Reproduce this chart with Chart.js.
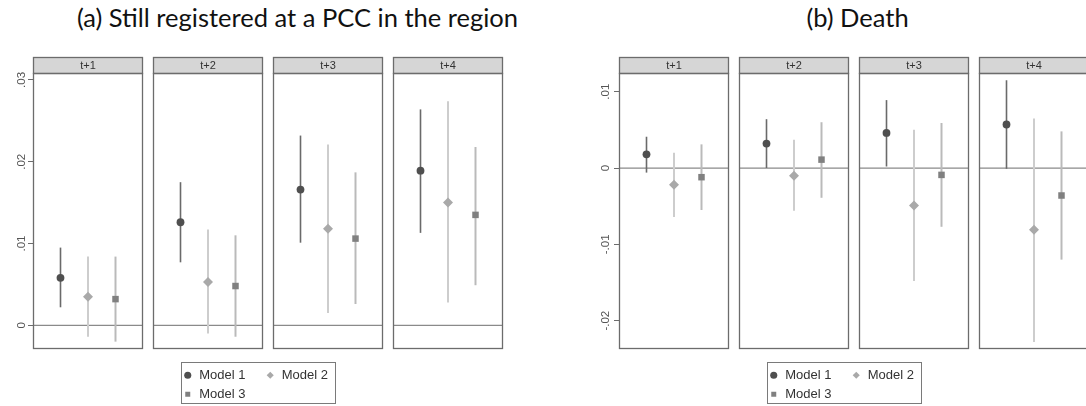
<!DOCTYPE html>
<html><head><meta charset="utf-8">
<script src="https://cdn.jsdelivr.net/npm/chart.js@4/dist/chart.umd.min.js"></script>
<style>
html,body{margin:0;padding:0;background:#fff;}
#root{position:relative;width:1086px;height:406px;overflow:hidden;background:#fff;}
#root canvas{position:absolute;}
.ptitle{position:absolute;font-family:Lato,"Open Sans",sans-serif;font-size:25.5px;line-height:25.5px;color:#111;white-space:nowrap;transform:translateX(-50%);}
.legbox{position:absolute;border:1px solid #7a7a7a;box-sizing:border-box;}
</style></head><body><div id="root"></div>
<script>
// ---------------- data ----------------
const PERIODS = ['t+1', 't+2', 't+3', 't+4'];
const MODELS = ['Model 1', 'Model 2', 'Model 3'];

const A_TITLE = '(a) Still registered at a PCC in the region';
const A_TICKS = [0, 0.01, 0.02, 0.03];
const A_TICK_LABELS = ['0', '.01', '.02', '.03'];
const A_M1_EST = [0.0058, 0.0126, 0.0166, 0.0189];
const A_M1_LO  = [0.0022, 0.0077, 0.0101, 0.0113];
const A_M1_HI  = [0.0095, 0.0175, 0.0232, 0.0264];
const A_M2_EST = [0.0035, 0.0053, 0.0118, 0.0150];
const A_M2_LO  = [-0.0014, -0.0010, 0.0015, 0.0028];
const A_M2_HI  = [0.0084, 0.0117, 0.0221, 0.0274];
const A_M3_EST = [0.0032, 0.0048, 0.0106, 0.0135];
const A_M3_LO  = [-0.0020, -0.0014, 0.0026, 0.0049];
const A_M3_HI  = [0.0084, 0.0110, 0.0187, 0.0218];

const B_TITLE = '(b) Death';
const B_TICKS = [-0.02, -0.01, 0, 0.01];
const B_TICK_LABELS = ['-.02', '-.01', '0', '.01'];
const B_M1_EST = [0.0018, 0.0032, 0.0046, 0.0057];
const B_M1_LO  = [-0.0006, 0.0000, 0.0002, -0.0001];
const B_M1_HI  = [0.0041, 0.0064, 0.0089, 0.0115];
const B_M2_EST = [-0.0022, -0.0010, -0.0049, -0.0081];
const B_M2_LO  = [-0.0064, -0.0056, -0.0148, -0.0228];
const B_M2_HI  = [0.0020, 0.0037, 0.0050, 0.0065];
const B_M3_EST = [-0.0012, 0.0011, -0.0009, -0.0036];
const B_M3_LO  = [-0.0055, -0.0039, -0.0077, -0.0120];
const B_M3_HI  = [0.0031, 0.0060, 0.0059, 0.0048];

// ---------------- styles / layout ----------------
const POINT_STYLES = ['circle', 'rectRot', 'rect'];
const POINT_RADII = [3.9, 5, 4.6];
const POINT_COLORS = ['#4f4f4f', '#a9a9a9', '#808080'];
const CI_COLORS = ['#6a6a6a', '#cdcdcd', '#bababa'];
const CI_WIDTHS = [1.6, 2, 2];
const ZERO_COLOR = '#8a8a8a';
const FRAME_COLOR = '#6c6c6c';
const STRIP_FILL = '#d6d6d6';
const FACET_W = 110;
const AXIS_W = 30;

const PANELS = [
  { title: A_TITLE, titleCenter: 297.5, lefts: [33, 153, 273, 393], yMin: -0.0029, yMax: 0.03085,
    ticks: A_TICKS, tickLabels: A_TICK_LABELS,
    est: [A_M1_EST, A_M2_EST, A_M3_EST], lo: [A_M1_LO, A_M2_LO, A_M3_LO], hi: [A_M1_HI, A_M2_HI, A_M3_HI],
    legendBox: [181, 362, 155, 42], legendLeft: 163 },
  { title: B_TITLE, titleCenter: 857.5, lefts: [619, 739, 859, 979], yMin: -0.02371, yMax: 0.01245,
    ticks: B_TICKS, tickLabels: B_TICK_LABELS,
    est: [B_M1_EST, B_M2_EST, B_M3_EST], lo: [B_M1_LO, B_M2_LO, B_M3_LO], hi: [B_M1_HI, B_M2_HI, B_M3_HI],
    legendBox: [767, 362, 155, 42], legendLeft: 749 }
];

const root = document.getElementById('root');

function addCanvas(left, top, w, h) {
  const cv = document.createElement('canvas');
  cv.width = w; cv.height = h;
  cv.style.left = left + 'px'; cv.style.top = top + 'px';
  cv.style.width = w + 'px'; cv.style.height = h + 'px';
  root.appendChild(cv);
  return cv;
}

const facetPlugin = {
  id: 'facetFrame',
  beforeDraw(chart) {
    const ctx = chart.ctx, ca = chart.chartArea, tb = chart.titleBlock;
    ctx.save();
    ctx.fillStyle = STRIP_FILL;
    ctx.fillRect(ca.left, tb.top, ca.right - ca.left, ca.top - tb.top);
    ctx.restore();
  },
  afterDraw(chart) {
    const ctx = chart.ctx, ca = chart.chartArea, tb = chart.titleBlock;
    ctx.save();
    ctx.strokeStyle = FRAME_COLOR;
    ctx.lineWidth = 1.3;
    ctx.strokeRect(ca.left + 0.5, tb.top + 0.5, ca.right - ca.left - 1, ca.top - tb.top);
    ctx.strokeRect(ca.left + 0.5, ca.top + 0.5, ca.right - ca.left - 1, ca.bottom - ca.top - 1);
    ctx.restore();
  }
};

function makeFacet(panel, fi) {
  const first = fi === 0;
  const axisW = first ? AXIS_W : 0;
  const W = axisW + FACET_W + 2;
  const H = 294;
  const cv = addCanvas(panel.lefts[fi] - 1 - axisW, 56, W, H);
  const ds = [];
  ds.push({ type: 'line', order: 3, data: [{ x: 0, y: 0 }, { x: 4, y: 0 }], borderColor: ZERO_COLOR, borderWidth: 1.2, pointRadius: 0 });
  for (let m = 0; m < 3; m++) {
    ds.push({ type: 'line', order: 2, data: [{ x: m + 1, y: panel.lo[m][fi] }, { x: m + 1, y: panel.hi[m][fi] }],
      borderColor: CI_COLORS[m], borderWidth: CI_WIDTHS[m], pointRadius: 0, borderCapStyle: 'butt' });
  }
  for (let m = 0; m < 3; m++) {
    ds.push({ type: 'scatter', order: 1, label: MODELS[m], data: [{ x: m + 1, y: panel.est[m][fi] }],
      pointStyle: POINT_STYLES[m], pointRadius: POINT_RADII[m], backgroundColor: POINT_COLORS[m],
      borderColor: POINT_COLORS[m], borderWidth: 0 });
  }
  new Chart(cv, {
    type: 'scatter',
    data: { datasets: ds },
    options: {
      responsive: false, animation: false, devicePixelRatio: 1,
      layout: { autoPadding: false, padding: { left: 1, right: 1, top: 1, bottom: 1 } },
      plugins: {
        legend: { display: false }, tooltip: { enabled: false },
        title: { display: true, text: PERIODS[fi], fullSize: false, color: '#333',
          font: { family: 'Liberation Sans', size: 11, weight: 'normal', lineHeight: 1 }, padding: { top: 3, bottom: 2 } }
      },
      scales: {
        x: { type: 'linear', display: false, min: 0, max: 4 },
        y: {
          type: 'linear', display: first, min: panel.yMin, max: panel.yMax,
          afterBuildTicks: (s) => { s.ticks = panel.ticks.map(v => ({ value: v })); },
          afterFit: (s) => { s.width = axisW; s.paddingTop = 0; s.paddingBottom = 0; },
          ticks: {
            minRotation: 90, maxRotation: 90, crossAlign: 'center', padding: -1.5,
            color: '#555', font: { family: 'Liberation Sans', size: 11.5 },
            callback: (v) => { const i = panel.ticks.indexOf(v); return i >= 0 ? panel.tickLabels[i] : ''; }
          },
          grid: { display: true, drawOnChartArea: false, drawTicks: true, tickLength: 5, color: '#6c6c6c', lineWidth: 1 },
          border: { display: false }
        }
      }
    },
    plugins: [facetPlugin]
  });
}

function makeLegendRow(panel, items, top) {
  const cv = addCanvas(panel.legendLeft, top, 200, 120);
  const ds = MODELS.map((name, m) => ({ label: name, data: [], pointStyle: POINT_STYLES[m],
    backgroundColor: POINT_COLORS[m], borderColor: POINT_COLORS[m], borderWidth: 0 }));
  new Chart(cv, {
    type: 'scatter',
    data: { datasets: ds },
    options: {
      responsive: false, animation: false, devicePixelRatio: 1,
      layout: { autoPadding: false, padding: 0 },
      scales: { x: { display: false }, y: { display: false } },
      plugins: {
        tooltip: { enabled: false },
        legend: { display: true, position: 'top', align: 'start', maxHeight: 100,
          labels: { usePointStyle: true, boxWidth: 10, boxHeight: 5, padding: 19.75, color: '#333',
            font: { family: 'Liberation Sans', size: 13 },
            filter: (item) => items.includes(item.datasetIndex) } }
      }
    }
  });
}

PANELS.forEach(panel => {
  const t = document.createElement('div');
  t.className = 'ptitle';
  t.textContent = panel.title;
  t.style.top = '5px';
  t.style.left = panel.titleCenter + 'px';
  root.appendChild(t);

  for (let fi = 0; fi < PERIODS.length; fi++) makeFacet(panel, fi);

  const lb = document.createElement('div');
  lb.className = 'legbox';
  const [bx, by, bw, bh] = panel.legendBox;
  lb.style.left = bx + 'px'; lb.style.top = by + 'px'; lb.style.width = bw + 'px'; lb.style.height = bh + 'px';
  root.appendChild(lb);
  makeLegendRow(panel, [0, 1], 348.5);
  makeLegendRow(panel, [2], 368);
});
</script>
</body></html>
